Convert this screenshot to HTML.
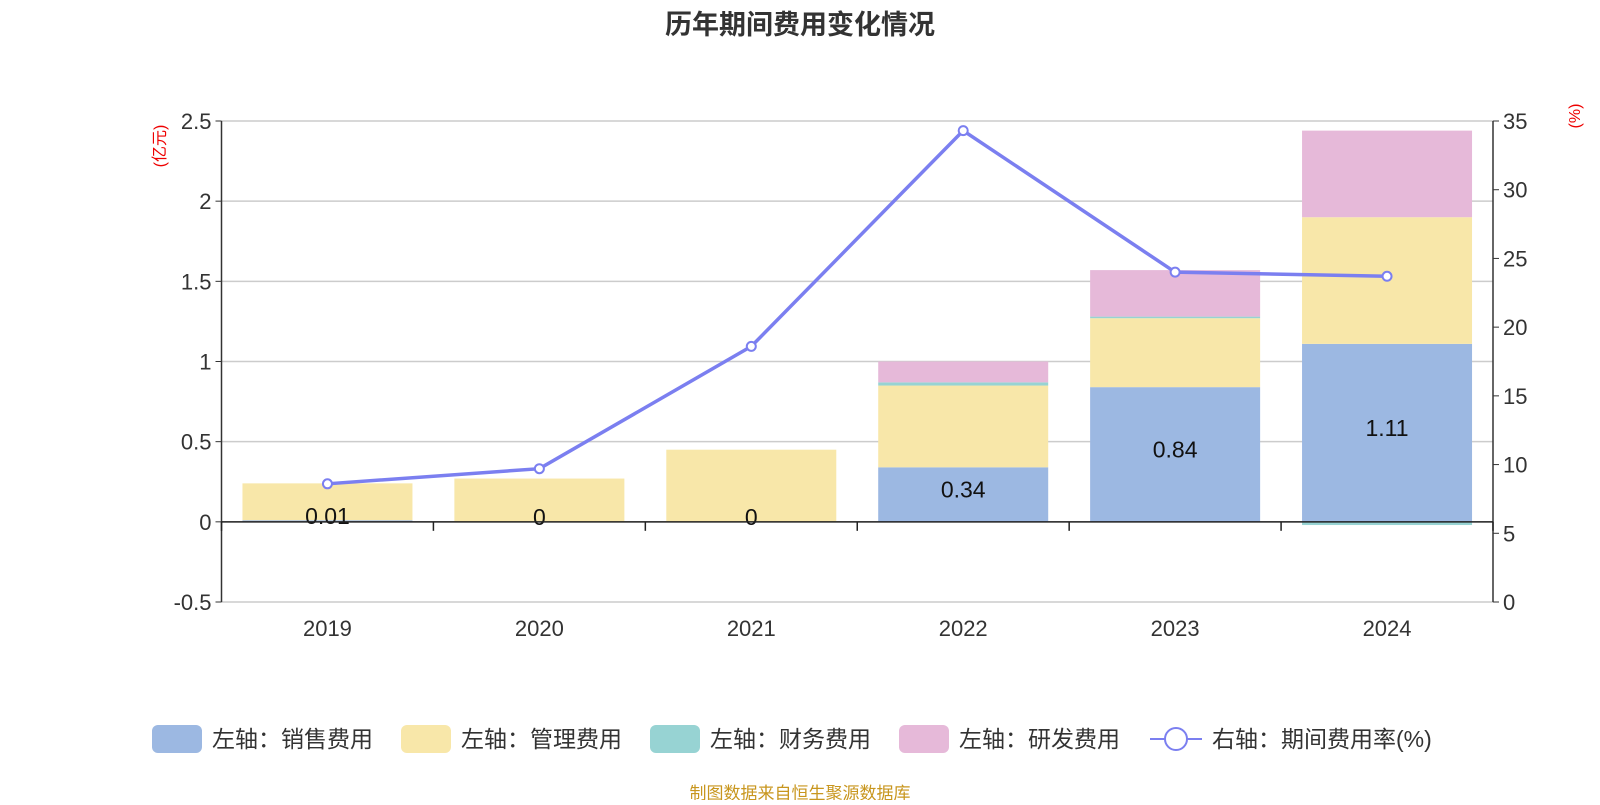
<!DOCTYPE html>
<html><head><meta charset="utf-8"><style>
body{margin:0;background:#fff;font-family:"Liberation Sans","Noto Sans CJK SC",sans-serif}
svg text{font-family:"Liberation Sans","Noto Sans CJK SC",sans-serif}
</style></head><body>
<svg id="c" width="1600" height="800" xmlns="http://www.w3.org/2000/svg">
<text x="800" y="34" text-anchor="middle" font-size="27" font-weight="bold" fill="#333">历年期间费用变化情况</text>
<text transform="translate(165,146) rotate(-90)" text-anchor="middle" font-size="16" fill="#e00">(亿元)</text>
<text transform="translate(1580,116) rotate(-90)" text-anchor="middle" font-size="16" fill="#e00">(%)</text>
<g id="g"></g>
<text x="800" y="799" text-anchor="middle" font-size="17" fill="#c8961e">制图数据来自恒生聚源数据库</text>
</svg>
<script>
const years=['2019','2020','2021','2022','2023','2024'];
const sales=[0.01,0,0,0.34,0.84,1.11];
const admin=[0.23,0.27,0.45,0.51,0.43,0.79];
const finance=[0,0,0,0.02,0.01,-0.02];
const rnd=[0,0,0,0.13,0.29,0.54];
const rate=[8.6,9.7,18.6,34.3,24.0,23.7];
const leftTicks=[-0.5,0,0.5,1,1.5,2,2.5];
const rightTicks=[0,5,10,15,20,25,30,35];
const NS='http://www.w3.org/2000/svg',g=document.getElementById('g');
const L=221.5,R=1493,T=121,B=602;
const yL=v=>B-(v+0.5)/3*(B-T), yR=v=>B-v/35*(B-T);
const cw=(R-L)/years.length, bw=170, xc=i=>L+cw*(i+0.5);
function el(t,a,p){const e=document.createElementNS(NS,t);for(const k in a)e.setAttribute(k,a[k]);(p||g).appendChild(e);return e;}
leftTicks.forEach(v=>{const l=el('line',{x1:L,x2:R,y1:yL(v),y2:yL(v),stroke:'#ccc','stroke-width':1.5});


const t=el('text',{x:L-10,y:yL(v)+8,'text-anchor':'end','font-size':22,fill:'#333'});t.textContent=v;


el('line',{x1:L-6,x2:L,y1:yL(v),y2:yL(v),stroke:'#333'});});
rightTicks.forEach(v=>{const t=el('text',{x:R+10,y:yR(v)+8,'font-size':22,fill:'#333'});t.textContent=v;


el('line',{x1:R,x2:R+6,y1:yR(v),y2:yR(v),stroke:'#333'});});
el('line',{x1:L,x2:L,y1:T,y2:B,stroke:'#333','stroke-width':1.5});
el('line',{x1:R,x2:R,y1:T,y2:B,stroke:'#333','stroke-width':1.5});
const cols=['#9cb8e2','#f8e7a9','#97d3d3','#e6b9d9'];
const series=[sales,admin,finance,rnd];
years.forEach((y,i)=>{let pos=0,neg=0;
series.forEach((s,k)=>{const v=s[i];if(!v)return;let y0,y1;
if(v>0){y0=pos;y1=pos+v;pos=y1;}else{y0=neg;y1=neg+v;neg=y1;}
const r=el('rect',{x:xc(i)-bw/2,y:Math.min(yL(y0),yL(y1)),width:bw,height:Math.abs(yL(y0)-yL(y1)),fill:cols[k]});

});
const t=el('text',{x:xc(i),y:yL(sales[i]/2)+3,'text-anchor':'middle','font-size':23,fill:'#111'});t.textContent=sales[i];


const xt=el('text',{x:xc(i),y:B+34,'text-anchor':'middle','font-size':22,fill:'#333'});xt.textContent=y;

});
el('line',{x1:L,x2:R,y1:yL(0),y2:yL(0),stroke:'#222','stroke-width':1.5});
for(let i=0;i<=years.length;i++)el('line',{x1:L+cw*i,x2:L+cw*i,y1:yL(0),y2:yL(0)+9,stroke:'#222','stroke-width':1.5});
const ln=el('polyline',{points:rate.map((v,i)=>xc(i)+','+yR(v)).join(' '),fill:'none',stroke:'#7b7ff0','stroke-width':3.5});


rate.forEach((v,i)=>{const c=el('circle',{cx:xc(i),cy:yR(v),r:4.5,fill:'#fff',stroke:'#7b7ff0','stroke-width':2});

});
const leg=[['左轴：销售费用',152],['左轴：管理费用',401],['左轴：财务费用',650],['左轴：研发费用',899]];
leg.forEach(([n,x],k)=>{const r=el('rect',{x:x,y:725,width:50,height:28,rx:6,fill:cols[k]});


const t=el('text',{x:x+60,y:747,'font-size':23,fill:'#333'});t.textContent=n;

});
el('line',{x1:1150,x2:1202,y1:739,y2:739,stroke:'#7b7ff0','stroke-width':2});
el('circle',{cx:1176,cy:739,r:11,fill:'#fff',stroke:'#7b7ff0','stroke-width':2});
const lt=el('text',{x:1212,y:747,'font-size':23,fill:'#333'});lt.textContent='右轴：期间费用率(%)';


</script>
</body></html>
